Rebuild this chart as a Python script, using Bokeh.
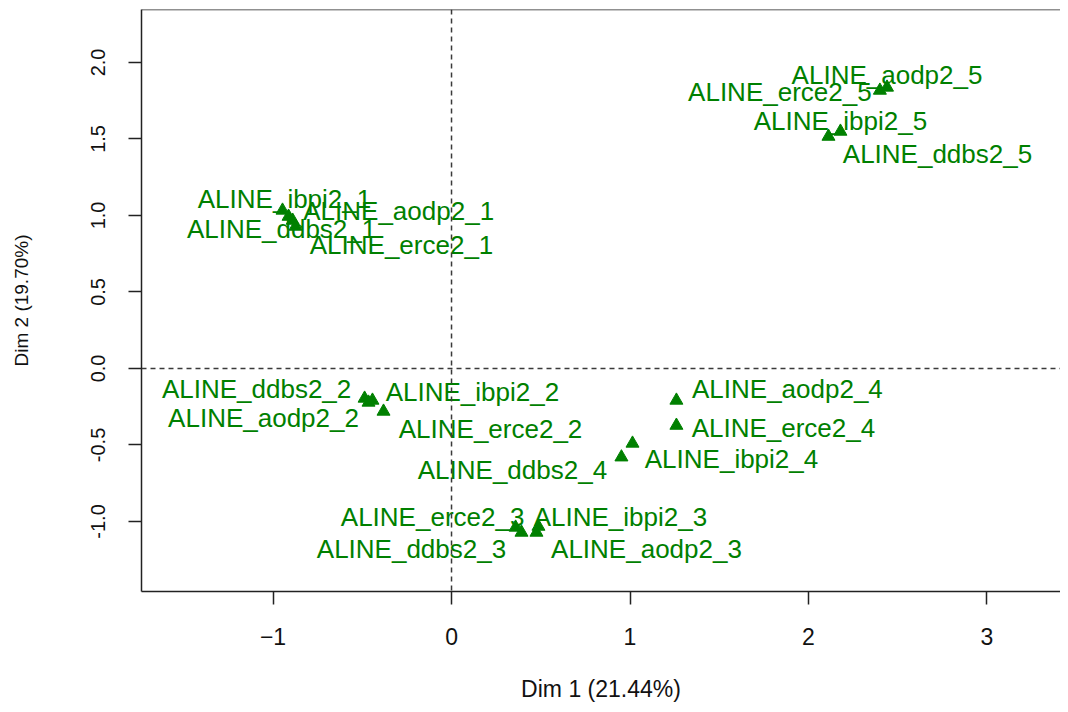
from bokeh.plotting import figure
from bokeh.models import Span, FixedTicker, ColumnDataSource, PrintfTickFormatter
from bokeh.embed import file_html
from bokeh.resources import INLINE
from bokeh.core.properties import value

# ---- data ----
labels = [
    "ALINE_aodp2_1", "ALINE_ddbs2_1", "ALINE_erce2_1", "ALINE_ibpi2_1",
    "ALINE_aodp2_2", "ALINE_ddbs2_2", "ALINE_erce2_2", "ALINE_ibpi2_2",
    "ALINE_aodp2_3", "ALINE_ddbs2_3", "ALINE_erce2_3", "ALINE_ibpi2_3",
    "ALINE_aodp2_4", "ALINE_ddbs2_4", "ALINE_erce2_4", "ALINE_ibpi2_4",
    "ALINE_aodp2_5", "ALINE_ddbs2_5", "ALINE_erce2_5", "ALINE_ibpi2_5",
]
dim1 = [-0.890, -0.913, -0.874, -0.947,
        -0.465, -0.487, -0.381, -0.443,
        0.476, 0.392, 0.359, 0.487,
        1.260, 0.952, 1.260, 1.014,
        2.440, 2.112, 2.400, 2.179]
dim2 = [0.967, 0.993, 0.928, 1.033,
        -0.222, -0.196, -0.281, -0.209,
        -1.072, -1.072, -1.039, -1.033,
        -0.209, -0.580, -0.373, -0.490,
        1.837, 1.516, 1.817, 1.549]
x_ticks = [-1, 0, 1, 2, 3]
y_ticks = [-1.0, -0.5, 0.0, 0.5, 1.0, 1.5, 2.0]
x_title = "Dim 1 (21.44%)"
y_title = "Dim 2 (19.70%)"

# ---- label placement (screen-pixel offsets from each point, centre-aligned) ----
label_dx = [106, -7, 106, 2,
            -105, -108, 107, 100,
            110, -110, -83, 82,
            111, -109, 107, 99,
            0, 109, -100, 0]
label_dy = [-9, 12, 19, -11,
            16, -9, 18, -8,
            17, 17, -10, -9,
            -11, 13, 3, 16,
            -12, 18, 2, -10]

GREEN = "#008000"
FONT = "Liberation Sans"
X_MIN, X_MAX = -1.737, 3.412
Y_MIN, Y_MAX = -1.458, 2.346

src = ColumnDataSource(dict(x=dim1, y=dim2, lab=labels, dx=label_dx, dy=label_dy))

p = figure(width=1060, height=704, output_backend="svg", toolbar_location=None,
           x_range=(X_MIN, X_MAX), y_range=(Y_MIN, Y_MAX),
           min_border_left=141, min_border_right=0, min_border_top=9,
           min_border_bottom=113)
p.grid.visible = False
p.outline_line_color = None
p.background_fill_color = "white"
p.border_fill_color = "white"

# reference lines
p.add_layout(Span(location=0, dimension="height", line_color="#3a3a3a",
                  line_dash="5 4", line_width=1.5))
p.add_layout(Span(location=0, dimension="width", line_color="#3a3a3a",
                  line_dash="5 4", line_width=1.5))
# top frame border
p.add_layout(Span(location=Y_MAX, dimension="width", line_color="#222222", line_width=1.5))

p.scatter("x", "y", source=src, marker="triangle", size=13,
          fill_color=GREEN, line_color=GREEN)
p.text("x", "y", text="lab", source=src, x_offset="dx", y_offset="dy",
       text_align="center", text_baseline="middle",
       text_font=value(FONT), text_font_size="26px", text_color=GREEN)

# axes
xa = p.xaxis[0]
xa.ticker = FixedTicker(ticks=x_ticks)
xa.axis_label = x_title
xa.axis_line_color = "#222222"
xa.axis_line_width = 1.5
xa.major_tick_line_color = "#222222"
xa.major_tick_line_width = 1.5
xa.major_tick_out = 13
xa.major_tick_in = 0
xa.minor_tick_line_color = None
xa.major_label_standoff = 23
xa.major_label_text_font = FONT
xa.major_label_text_font_size = "23px"
xa.major_label_text_color = "#111111"
xa.axis_label_standoff = 28
xa.axis_label_text_font = FONT
xa.axis_label_text_font_size = "23px"
xa.axis_label_text_font_style = "normal"
xa.axis_label_text_color = "#111111"

ya = p.yaxis[0]
ya.ticker = FixedTicker(ticks=y_ticks)
ya.formatter = PrintfTickFormatter(format="%.1f")
ya.axis_label = y_title
ya.axis_line_color = "#222222"
ya.axis_line_width = 1.5
ya.major_tick_line_color = "#222222"
ya.major_tick_line_width = 1.5
ya.major_tick_out = 13
ya.major_tick_in = 0
ya.minor_tick_line_color = None
ya.major_label_orientation = "vertical"
ya.major_label_standoff = 23
ya.major_label_text_font = FONT
ya.major_label_text_font_size = "20px"
ya.major_label_text_color = "#111111"
ya.axis_label_standoff = 57
ya.axis_label_text_font = FONT
ya.axis_label_text_font_size = "19px"
ya.axis_label_text_font_style = "normal"
ya.axis_label_text_color = "#111111"

open("out.html", "w").write(file_html(p, INLINE))
